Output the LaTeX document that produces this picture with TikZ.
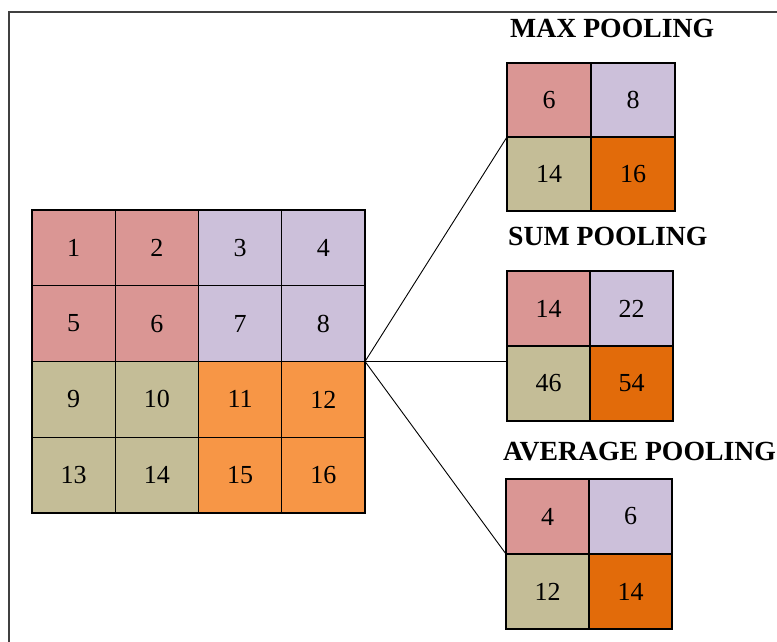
\documentclass[tikz,border=0pt]{standalone}
\usepackage{fontspec}
\setmainfont{Liberation Serif}
\definecolor{cpink}{HTML}{DA9694}
\definecolor{clav}{HTML}{CCC0DA}
\definecolor{ctan}{HTML}{C4BD97}
\definecolor{corange}{HTML}{F79646}
\definecolor{cdark}{HTML}{E26B0A}
\definecolor{cframe}{HTML}{404040}
\tikzset{
  cell/.style={draw=black, line width=1.4pt, inner sep=0pt, outer sep=0pt,
    font=\fontsize{26}{26}\selectfont},
  bigcell/.style={cell, minimum width=83.25pt, minimum height=75.75pt},
  maxcell/.style={cell, minimum width=84pt, minimum height=74pt},
  sumcell/.style={cell, minimum width=83pt, minimum height=75pt},
  avgcell/.style={cell, minimum width=83pt, minimum height=75pt},
  border/.style={draw=black, line width=2.6pt},
  title/.style={anchor=base west, inner sep=0pt, font=\fontsize{27.7}{27.7}\selectfont\bfseries},
  link/.style={draw=black, line width=0.9pt},
  frame/.style={draw=cframe, line width=2pt}
}
\begin{document}
\begin{tikzpicture}[x=1pt,y=-1pt]
\useasboundingbox (0,0) rectangle (777,642);
% frame
\draw[frame] (777,12) -- (9,12) -- (9,642);
% big grid
\node[bigcell, fill=cpink]   (b11) at (73.6,247.9) {1};
\node[bigcell, fill=cpink]   (b12) at (156.9,247.9) {2};
\node[bigcell, fill=clav]    (b13) at (240.1,247.9) {3};
\node[bigcell, fill=clav]    (b14) at (323.4,247.9) {4};
\node[bigcell, fill=cpink]   (b21) at (73.6,323.6) {5};
\node[bigcell, fill=cpink]   (b22) at (156.9,323.6) {6};
\node[bigcell, fill=clav]    (b23) at (240.1,323.6) {7};
\node[bigcell, fill=clav]    (b24) at (323.4,323.6) {8};
\node[bigcell, fill=ctan]    (b31) at (73.6,399.4) {9};
\node[bigcell, fill=ctan]    (b32) at (156.9,399.4) {10};
\node[bigcell, fill=corange] (b33) at (240.1,399.4) {11};
\node[bigcell, fill=corange] (b34) at (323.4,399.4) {12};
\node[bigcell, fill=ctan]    (b41) at (73.6,475.1) {13};
\node[bigcell, fill=ctan]    (b42) at (156.9,475.1) {14};
\node[bigcell, fill=corange] (b43) at (240.1,475.1) {15};
\node[bigcell, fill=corange] (b44) at (323.4,475.1) {16};
\draw[border] (b11.north west) rectangle (b44.south east);
\coordinate (src) at (b24.south east);
% max pooling
\node[title] (tmax) at (510,38) {MAX POOLING};
\node[maxcell, fill=cpink]  (m11) at (549,100) {6};
\node[maxcell, fill=clav]   (m12) at (633,100) {8};
\node[maxcell, fill=ctan]   (m21) at (549,174) {14};
\node[maxcell, fill=cdark]  (m22) at (633,174) {16};
\draw[border, line width=2.2pt] (m11.north west) rectangle (m22.south east);
% sum pooling
\node[title] (tsum) at (508,245) {SUM POOLING};
\node[sumcell, fill=cpink]  (s11) at (548.5,308.5) {14};
\node[sumcell, fill=clav]   (s12) at (631.5,308.5) {22};
\node[sumcell, fill=ctan]   (s21) at (548.5,383.5) {46};
\node[sumcell, fill=cdark]  (s22) at (631.5,383.5) {54};
\draw[border, line width=2.2pt] (s11.north west) rectangle (s22.south east);
% average pooling
\node[title] (tavg) at (503,460) {AVERAGE POOLING};
\node[avgcell, fill=cpink]  (a11) at (547.5,516.5) {4};
\node[avgcell, fill=clav]   (a12) at (630.5,516.5) {6};
\node[avgcell, fill=ctan]   (a21) at (547.5,591.5) {12};
\node[avgcell, fill=cdark]  (a22) at (630.5,591.5) {14};
\draw[border, line width=2.2pt] (a11.north west) rectangle (a22.south east);
% connectors
\draw[link] (src) -- (m21.north west);
\draw[link] (src) -- (src -| s21.west);
\draw[link] (src) -- (a21.north west);
\end{tikzpicture}
\end{document}
